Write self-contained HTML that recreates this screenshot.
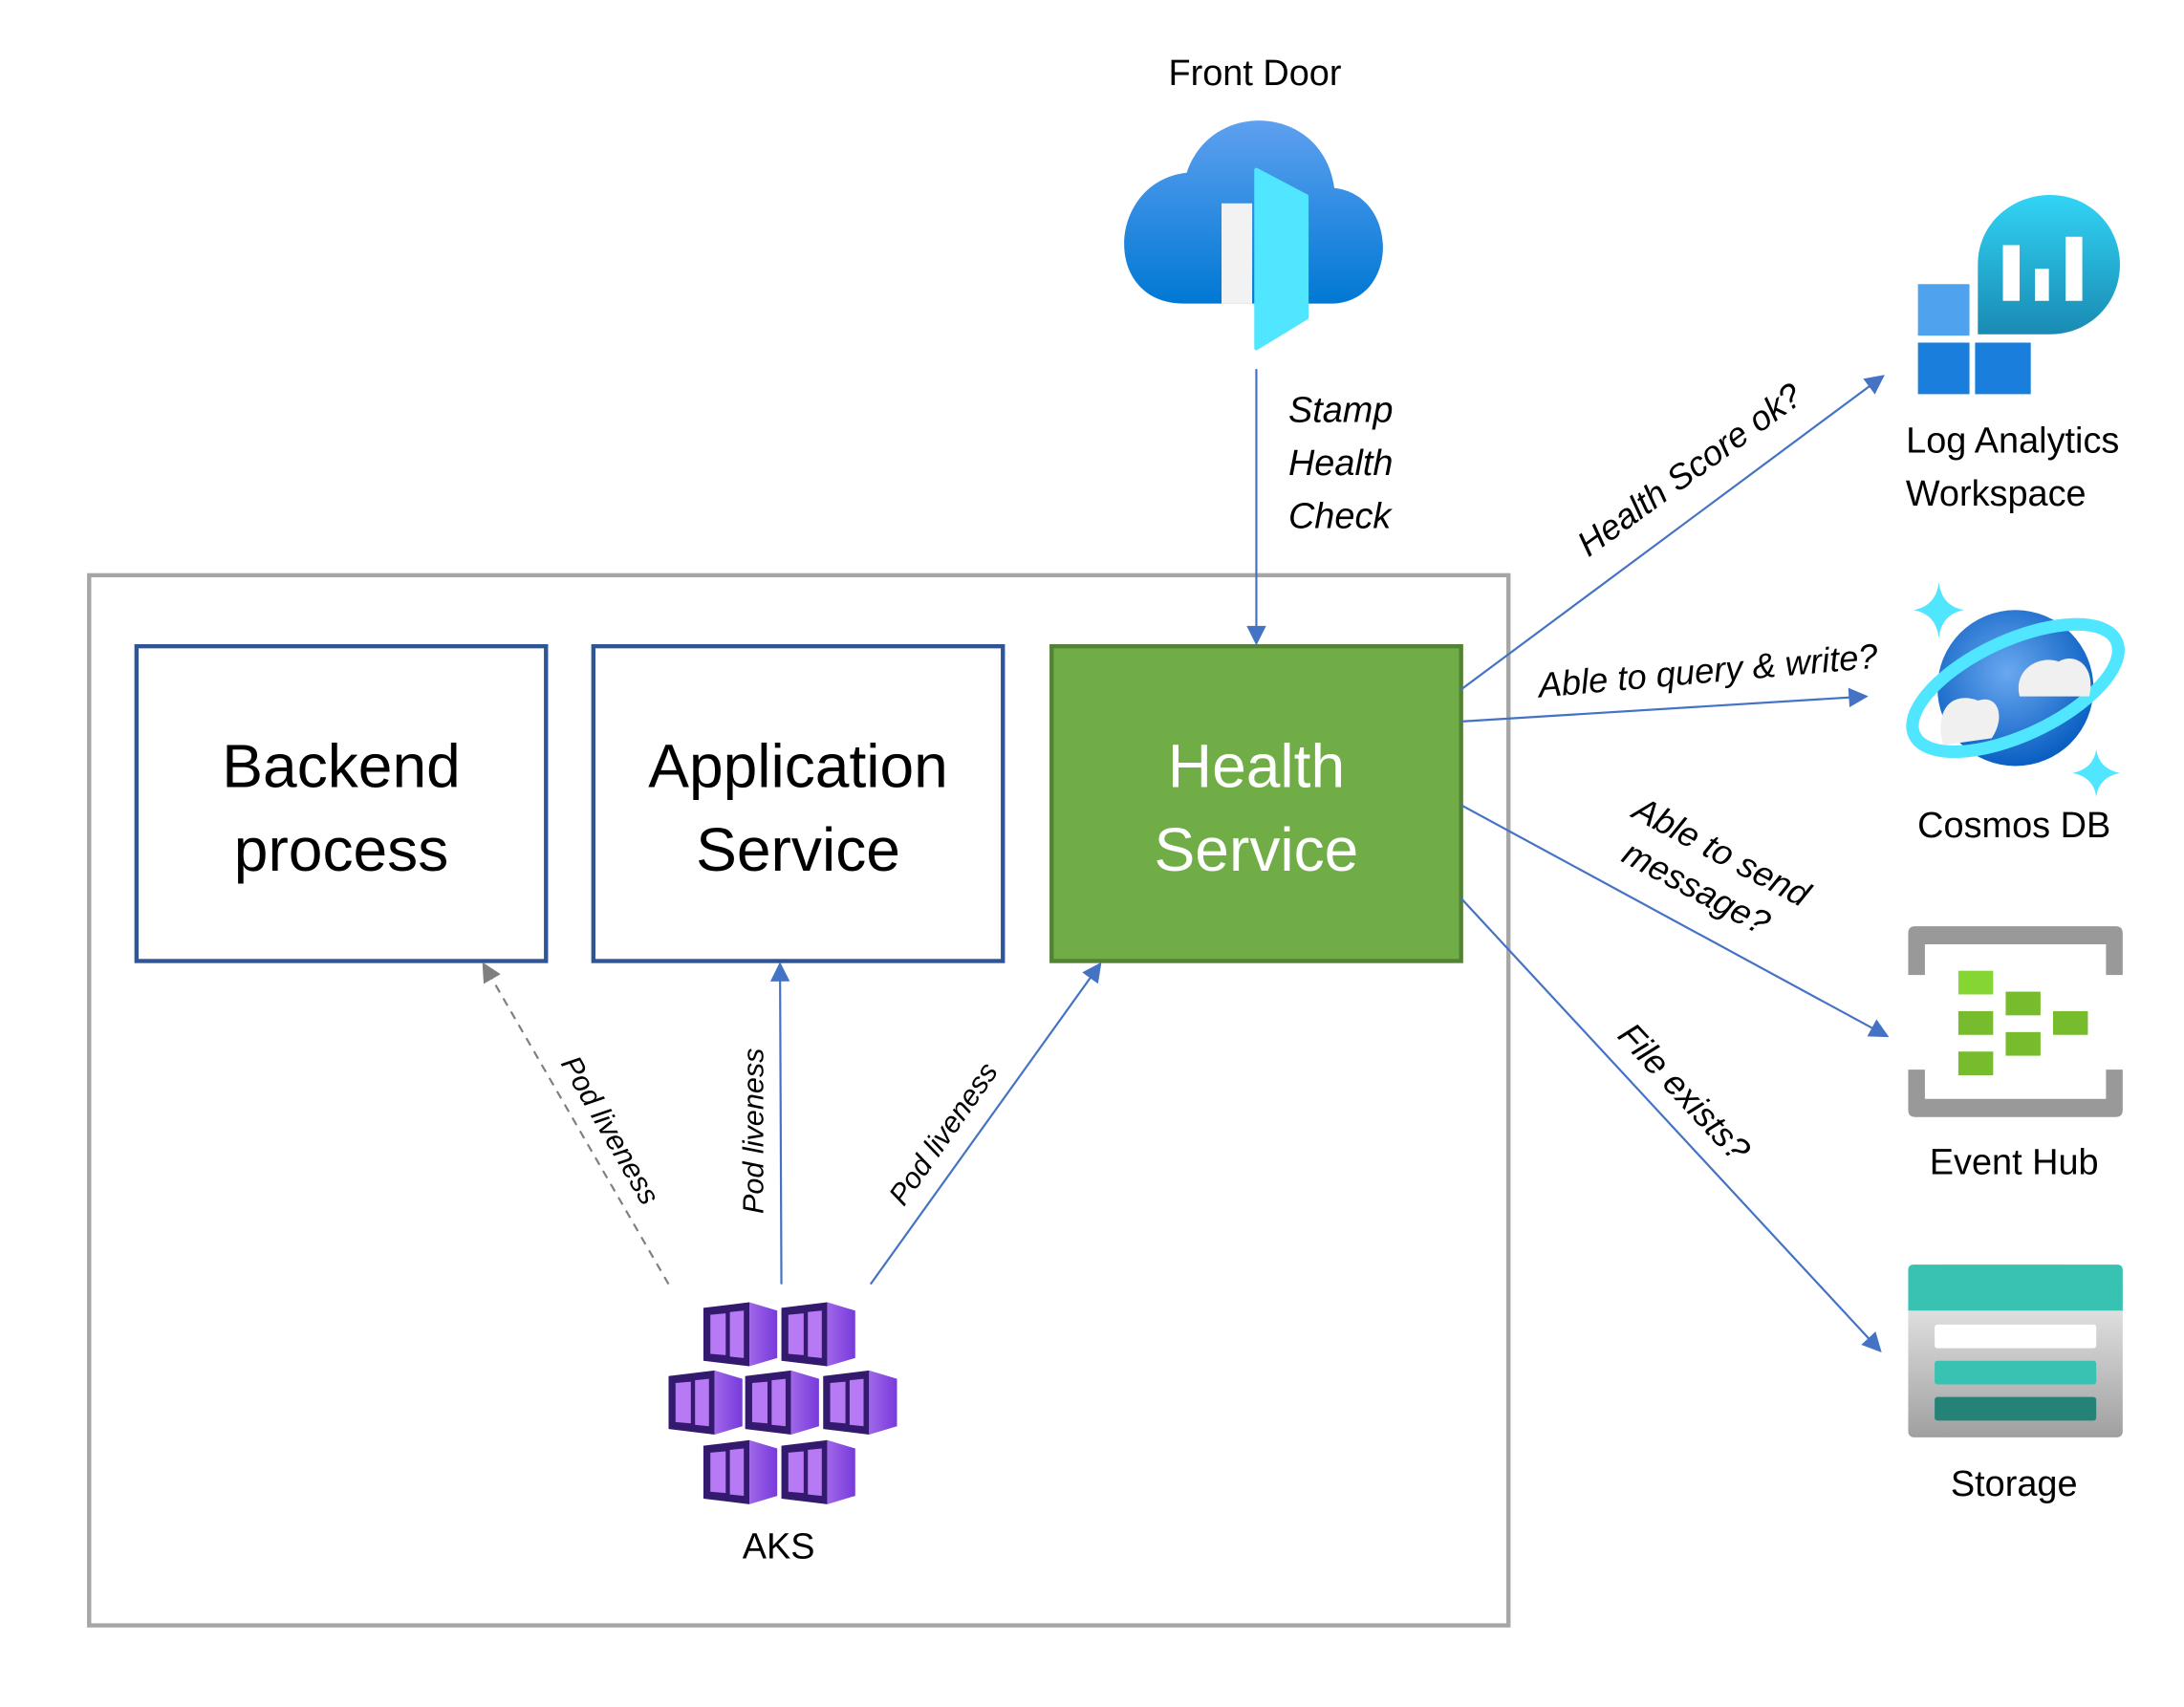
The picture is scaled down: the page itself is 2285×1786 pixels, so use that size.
<!DOCTYPE html>
<html><head><meta charset="utf-8"><style>
html,body{margin:0;padding:0;background:#fff;}
svg{display:block;}
text{font-family:"Liberation Sans","DejaVu Sans",sans-serif;}
</style></head><body>
<svg width="2285" height="1786" viewBox="0 0 1568 1225.6" xmlns="http://www.w3.org/2000/svg">
<defs>
<marker id="ab2" viewBox="0 0 10 10" refX="9" refY="5" markerWidth="18" markerHeight="14" orient="auto" markerUnits="userSpaceOnUse"><path d="M0,0L10,5L0,10z" fill="#4472C4"/></marker>
<marker id="ag" viewBox="0 0 10 10" refX="9" refY="5" markerWidth="18" markerHeight="14" orient="auto" markerUnits="userSpaceOnUse"><path d="M0,0L10,5L0,10z" fill="#7f7f7f"/></marker>
<linearGradient id="cg" x1="0" y1="0" x2="0" y2="1"><stop offset="0" stop-color="#5ea0ef"/><stop offset="1" stop-color="#0078d4"/></linearGradient>
<linearGradient id="lg" x1="0" y1="0" x2="0" y2="1"><stop offset="0" stop-color="#32d4f5"/><stop offset="1" stop-color="#198ab3"/></linearGradient>
<linearGradient id="sg" x1="0" y1="0" x2="0" y2="1"><stop offset="0" stop-color="#f5f5f5"/><stop offset="1" stop-color="#a0a0a0"/></linearGradient>
<radialGradient id="og" cx="0.45" cy="0.4" r="0.6"><stop offset="0" stop-color="#6aa8f0"/><stop offset="1" stop-color="#0a5fc2"/></radialGradient>
<linearGradient id="pg" x1="0" y1="0" x2="1" y2="0"><stop offset="0" stop-color="#a067e8"/><stop offset="1" stop-color="#773adc"/></linearGradient>
<g id="cube">
<polygon points="0,4 33,0 33,46 0,42" fill="#341a6e"/>
<polygon points="33,0 53,6 53,40 33,46" fill="url(#pg)"/>
<polygon points="5,9 16,8 16,38 5,37" fill="#b77af4"/>
<polygon points="19,7 29,6 29,40 19,39" fill="#b77af4"/>
</g>
</defs>

<rect x="64" y="413" width="1019" height="754" fill="none" stroke="#a6a6a6" stroke-width="3"/>

<rect x="98" y="464" width="294" height="226" fill="#fff" stroke="#2f5597" stroke-width="3"/>
<rect x="426" y="464" width="294" height="226" fill="#fff" stroke="#2f5597" stroke-width="3"/>
<rect x="755" y="464" width="294" height="226" fill="#70ad47" stroke="#538135" stroke-width="3"/>
<g font-size="44" text-anchor="middle">
<text x="245" y="565">Backend</text><text x="245" y="625">process</text>
<text x="573" y="565">Application</text><text x="573" y="625">Service</text>
<text x="902" y="565" fill="#fff">Health</text><text x="902" y="625" fill="#fff">Service</text>
</g>

<text x="901" y="61" font-size="26" text-anchor="middle">Front Door</text>
<path d="M850,218 C790,218 795,130 852,124 C870,70 950,75 958,135 C1005,140 1005,218 955,218 Z" fill="url(#cg)"/>
<rect x="877" y="146" width="22" height="72" fill="#f2f2f2"/>
<path d="M902,122 L938,141 L938,228 L902,250 Z" fill="#50e6ff" stroke="#50e6ff" stroke-width="3" stroke-linejoin="round"/>

<line x1="902" y1="265" x2="902" y2="462" stroke="#4472C4" stroke-width="1.5" marker-end="url(#ab2)"/>
<g font-size="26" font-style="italic"><text x="925" y="303">Stamp</text><text x="925" y="341">Health</text><text x="925" y="379">Check</text></g>

<g stroke="#4472C4" stroke-width="1.5">
<line x1="1049" y1="495" x2="1352" y2="270" marker-end="url(#ab2)"/>
<line x1="1049" y1="518" x2="1340" y2="500" marker-end="url(#ab2)"/>
<line x1="1049" y1="578" x2="1355" y2="744" marker-end="url(#ab2)"/>
<line x1="1049" y1="645" x2="1350" y2="970" marker-end="url(#ab2)"/>
</g>
<g font-size="25" font-style="italic" text-anchor="middle">
<text transform="translate(1218,344) rotate(-36)">Health Score ok?</text>
<text transform="translate(1227,490) rotate(-5)">Able to query &amp; write?</text>
<text transform="translate(1232,619) rotate(28)">Able to send</text>
<text transform="translate(1214,645) rotate(28)">message?</text>
<text transform="translate(1203,790) rotate(47)">File exists?</text>
</g>

<rect x="1377" y="204" width="37" height="37" fill="#4fa3ee"/>
<rect x="1377" y="246" width="37" height="37" fill="#1a7fdc"/>
<rect x="1418" y="246" width="40" height="37" fill="#1a7fdc"/>
<path d="M1420,240 L1420,190 C1420,160 1445,140 1472,140 C1500,140 1522,162 1522,190 C1522,218 1500,240 1472,240 Z" fill="url(#lg)"/>
<rect x="1438" y="176" width="12" height="40" fill="#fff"/>
<rect x="1461" y="193" width="10" height="23" fill="#fff"/>
<rect x="1483" y="170" width="12" height="46" fill="#fff"/>
<text x="1445" y="325" font-size="26" text-anchor="middle">Log Analytics</text>
<text x="1433" y="363" font-size="26" text-anchor="middle">Workspace</text>

<circle cx="1447" cy="494" r="56" fill="url(#og)"/>
<ellipse cx="1447" cy="494" rx="80" ry="34" transform="rotate(-25 1447 494)" fill="none" stroke="#50e6ff" stroke-width="9"/>
<path d="M1395,535 C1388,505 1405,497 1420,503 C1435,498 1440,515 1430,530 Z" fill="#f0f0f0"/>
<path d="M1450,500 C1445,480 1465,470 1478,475 C1490,468 1505,478 1500,500 Z" fill="#f0f0f0"/>
<path d="M1392,418 Q1394,435 1410,438 Q1394,441 1392,458 Q1390,441 1374,438 Q1390,435 1392,418Z" fill="#50e6ff"/>
<path d="M1505,538 Q1507,552 1522,555 Q1507,558 1505,572 Q1503,558 1488,555 Q1503,552 1505,538Z" fill="#50e6ff"/>
<text x="1446" y="601" font-size="26" text-anchor="middle">Cosmos DB</text>

<path d="M1370,700 L1370,670 Q1370,665 1375,665 L1519,665 Q1524,665 1524,670 L1524,700 L1512,700 L1512,678 L1382,678 L1382,700 Z" fill="#999"/>
<path d="M1370,768 L1370,797 Q1370,802 1375,802 L1519,802 Q1524,802 1524,797 L1524,768 L1512,768 L1512,789 L1382,789 L1382,768 Z" fill="#999"/>
<g fill="#76bc2d"><rect x="1406" y="697" width="25" height="17" fill="#86d633"/><rect x="1406" y="726" width="25" height="17"/><rect x="1406" y="755" width="25" height="17"/><rect x="1440" y="712" width="25" height="17"/><rect x="1440" y="741" width="25" height="17"/><rect x="1474" y="726" width="25" height="17"/></g>
<text x="1446" y="843" font-size="26" text-anchor="middle">Event Hub</text>

<rect x="1370" y="908" width="154" height="124" rx="4" fill="url(#sg)"/>
<path d="M1374,908 L1520,908 Q1524,908 1524,912 L1524,941 L1370,941 L1370,912 Q1370,908 1374,908Z" fill="#37c2b1"/>
<rect x="1389" y="951" width="116" height="17" rx="2" fill="#fff"/>
<rect x="1389" y="977" width="116" height="17" rx="2" fill="#37c2b1"/>
<rect x="1389" y="1003" width="116" height="17" rx="2" fill="#258277"/>
<text x="1446" y="1074" font-size="26" text-anchor="middle">Storage</text>

<line x1="480" y1="922" x2="347" y2="692" stroke="#7f7f7f" stroke-width="1.5" stroke-dasharray="6,5" marker-end="url(#ag)"/>
<line x1="561" y1="922" x2="560" y2="692" stroke="#4472C4" stroke-width="1.5" marker-end="url(#ab2)"/>
<line x1="625" y1="922" x2="790" y2="692" stroke="#4472C4" stroke-width="1.5" marker-end="url(#ab2)"/>
<g font-size="21" font-style="italic" text-anchor="middle">
<text transform="translate(432,815) rotate(60)">Pod liveness</text>
<text transform="translate(548,812) rotate(-90)">Pod liveness</text>
<text transform="translate(683,818) rotate(-55)">Pod liveness</text>
</g>

<use href="#cube" x="505" y="935"/><use href="#cube" x="561" y="935"/>
<use href="#cube" x="480" y="984"/><use href="#cube" x="535" y="984"/><use href="#cube" x="591" y="984"/>
<use href="#cube" x="505" y="1034"/><use href="#cube" x="561" y="1034"/>
<text x="559" y="1119" font-size="26" text-anchor="middle">AKS</text>
</svg>
</body></html>
